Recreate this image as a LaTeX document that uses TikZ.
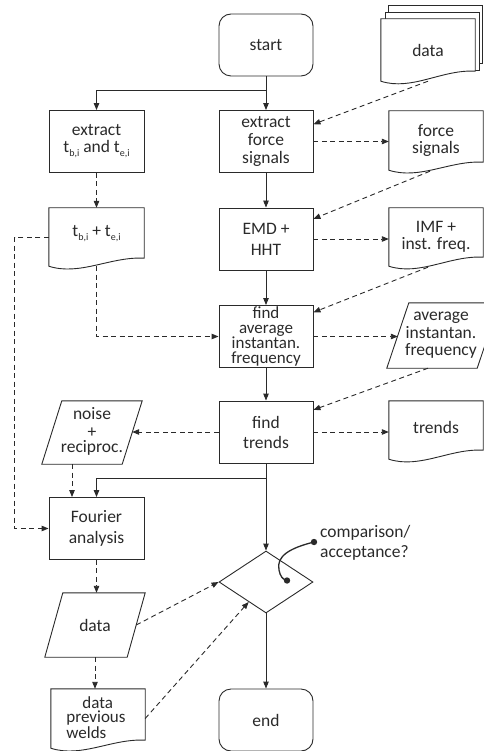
\documentclass[tikz,border=0pt]{standalone}
\usepackage{fontspec}
\setmainfont{Carlito}
\usetikzlibrary{shapes.geometric,calc,arrows.meta}
\definecolor{ink}{HTML}{2A2A2A}
\newcommand{\sbs}[1]{\raisebox{-4pt}{\fontsize{10}{10}\selectfont #1}}
\begin{document}
\begin{tikzpicture}[x=1pt,y=-1pt,
  every node/.style={font=\fontsize{17.5}{17}\selectfont, text=ink, align=center, inner sep=0pt},
  procbox/.style={draw=ink, line width=0.9pt, minimum width=94pt, minimum height=62pt},
  termbox/.style={procbox, rounded corners=12pt},
  docnode/.style={minimum width=94pt},
  paranode/.style={},
  arr/.style={draw=ink, line width=0.9pt, -{Triangle[length=7pt,width=5.5pt]}},
  darr/.style={arr, dash pattern=on 5pt off 3.5pt},
  outline/.style={draw=ink, line width=0.9pt, fill=white}
]
\useasboundingbox (0,0) rectangle (483,751);

% document outlines: #1 node, #2 rise of right end
\newcommand{\docline}[2]{%
  \draw[outline] (#1.north west) -- (#1.north east) -- ($(#1.south east)+(0,-#2)$)
    .. controls ($(#1.south east)+(-33,-#2-2)$) and ($(#1.south west)+(31,10)$) .. (#1.south west) -- cycle;}
\newcommand{\paraline}[2]{%
  \draw[outline] ($(#1.north west)+(#2,0)$) -- ($(#1.north east)+(#2,0)$) -- ($(#1.south east)+(-#2,0)$) -- ($(#1.south west)+(-#2,0)$) -- cycle;}

% data stack
\node[docnode, minimum height=62pt] (data) at (428,50) {};
\draw[outline] ($(data.north west)+(8,-13)$) rectangle ($(data.south east)+(7.5,-18)$);
\draw[outline] ($(data.north west)+(4.5,-6.5)$) rectangle ($(data.south east)+(4,-11)$);
\docline{data}{10}
\node at (data.center) {data};

\node[termbox] (start) at (266,45) {start};
\node[procbox, minimum width=95pt] (extt) at (96.5,141.5) {extract\\t\sbs{b,i} and t\sbs{e,i}};
\node[procbox, font=\fontsize{17.5}{18}\selectfont] (extf) at (266,141.5) {extract\\force\\signals};

\node[docnode, minimum height=59pt] (force) at (436,140.5) {};
\docline{force}{8}
\node at (force.center) {force\\signals};

\node[docnode, minimum width=95pt, minimum height=58pt] (tb) at (96.5,237) {};
\docline{tb}{8}
\node at ($(tb.center)+(0,-3)$) {t\sbs{b,i} + t\sbs{e,i}};

\node[procbox, font=\fontsize{17.5}{21}\selectfont] (emd) at (266,239) {EMD +\\HHT};

\node[docnode, minimum height=58pt] (imf) at (436,237) {};
\docline{imf}{9}
\node at (imf.center) {IMF +\\inst. freq.};

\node[procbox, font=\fontsize{17}{14.8}\selectfont] (favg) at (266,336.5) {find\\average\\instantan.\\frequency};

\node[paranode, minimum width=90pt, minimum height=65pt] (avg) at (443,335.5) {};
\paraline{avg}{11}
\node[font=\fontsize{17.5}{17.5}\selectfont] at ($(avg.center)+(-2,0)$) {average\\instantan.\\frequency};

\node[procbox, font=\fontsize{17.5}{20}\selectfont] (ftr) at (266,432) {find\\trends};

\node[paranode, minimum width=80pt, minimum height=63pt] (noise) at (92,432.5) {};
\paraline{noise}{10}
\node at ($(noise.center)+(0,-1)$) {noise\\[1pt]+\\[-2pt]reciproc.};

\node[docnode, minimum height=58pt] (trd) at (436,430) {};
\docline{trd}{9}
\node at ($(trd.center)+(0,-3)$) {trends};

\node[procbox, minimum width=95pt, font=\fontsize{17.5}{21}\selectfont] (four) at (96.5,528.5) {Fourier\\analysis};

\node[diamond, draw=ink, line width=0.9pt, minimum width=94pt, minimum height=62pt] (dec) at (266,582) {};

\node[paranode, minimum width=82pt, minimum height=64pt] (dpara) at (95,625) {};
\paraline{dpara}{9}
\node at (dpara.center) {data};

\node[docnode, minimum height=59pt] (prev) at (98,718.5) {};
\docline{prev}{8}
\node[align=left, font=\fontsize{17}{14.5}\selectfont] at ($(prev.center)+(-2,-1)$) {\hspace*{16pt}data\\previous\\welds};

\node[termbox] (end) at (266,720) {end};

\node[anchor=west, align=left, font=\fontsize{17.5}{20}\selectfont] (cmp) at (320,543) {comparison/\\acceptance?};

% connectors
\draw[arr] (start.south) -- (extf.north);
\draw[arr] ($(start.south)+(0,14)$) -| (extt.north);
\draw[darr] (data.south) -- (extf.20);
\draw[darr] (extf.east) -- (extf.east -| force.west);
\draw[arr] (extf.south) -- (emd.north);
\draw[darr] (extt.south) -- (tb.north);
\draw[darr] ($(force.south)+(-6,1)$) -- (emd.23);
\draw[darr] (emd.east) -- (emd.east -| imf.west);
\draw[arr] (emd.south) -- (favg.north);
\draw[darr] ($(imf.south)+(-8,1)$) -- (favg.27);
\draw[darr] (tb.west) -- ++(-34,0) |- (four.west);
\draw[darr] (tb.south) |- (favg.west);
\draw[darr] (favg.east) -- (favg.east -| avg.west);
\draw[arr] (favg.south) -- (ftr.north);
\draw[darr] ($(avg.south)+(-15,0)$) -- (ftr.25);
\draw[darr] (ftr.west) -- (ftr.west -| noise.east);
\draw[darr] (ftr.east) -- (ftr.east -| trd.west);
\draw[arr] (ftr.south) -- (dec.north);
\draw[arr] ($(ftr.south)+(0,15)$) -| (four.north);
\coordinate (fin) at ($(four.north)+(-24.5,0)$);
\draw[darr] (fin |- noise.south) -- (fin);
\draw[darr] (four.south) -- (four.south |- dpara.north);
\draw[darr] (dpara.east) -- (dec.west);
\draw[darr] (dpara.south) -- (dpara.south |- prev.north);
\draw[darr] (prev.east) -- (dec.229);
\draw[arr] (dec.south) -- (end.north);

% callout
\draw[ink, line width=1.3pt] ($(cmp.west)+(-6,-1)$) .. controls ($(cmp.west)+(-30,5)$) and ($(dec.center)+(10,-26)$) .. ($(dec.center)+(13,-12)$)
  .. controls ($(dec.center)+(14,-6)$) and ($(dec.center)+(17,-2)$) .. ($(dec.center)+(21,-1.5)$);
\fill[ink] ($(cmp.west)+(-6,-1)$) circle (3.2pt);
\fill[ink] ($(dec.center)+(21,-1.5)$) circle (3.2pt);
\end{tikzpicture}
\end{document}
